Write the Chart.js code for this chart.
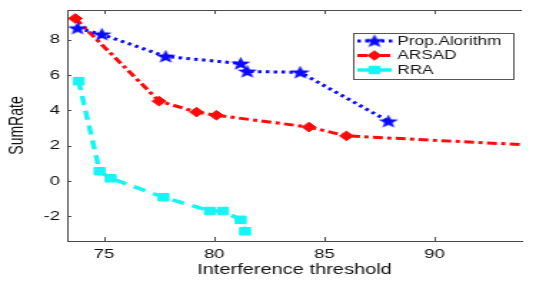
<!DOCTYPE html>
<html>
<head>
<meta charset="utf-8">
<script src="https://cdn.jsdelivr.net/npm/chart.js@4"></script>
<style>
  html, body { margin: 0; padding: 0; background: #fff; overflow: hidden; }
  /* the original figure is stretched sideways, so draw narrow and scale */
  #wrap { width: 375px; height: 281px; transform: scaleX(1.42933); transform-origin: 0 0; }
  #sumRateChart { display: block; width: 375px; height: 281px; }
</style>
</head>
<body>
<div id="wrap"><canvas id="sumRateChart" width="375" height="281"></canvas></div>
<script>
  // Prop. Alorithm
  const propThreshold = [73.8, 74.9, 77.8, 81.2, 81.5, 83.9, 87.9];
  const propSumRate = [8.65, 8.3, 7.05, 6.65, 6.2, 6.15, 3.38];

  // ARSAD
  const arsadThreshold = [73.7, 77.5, 79.2, 80.1, 84.3, 86.0, 96.0];
  const arsadSumRate = [9.2, 4.52, 3.9, 3.72, 3.05, 2.55, 1.93];

  // RRA
  const rraThreshold = [73.85, 74.8, 75.3, 77.7, 79.8, 80.4, 81.2, 81.4];
  const rraSumRate = [5.65, 0.55, 0.15, -0.92, -1.7, -1.7, -2.2, -2.85];

  const legendNames = ['Prop.Alorithm', 'ARSAD', 'RRA'];

  const axisColor = '#4a4a4a';
  const fontFamily = '"Liberation Sans", Arial, Helvetica, sans-serif';

  // filled five point star for the first series
  function makeStar(color) {
    const c = document.createElement('canvas');
    c.width = 15; c.height = 15;
    const g = c.getContext('2d');
    g.fillStyle = color;
    g.beginPath();
    for (let i = 0; i < 10; i++) {
      const r = i % 2 === 0 ? 7.2 : 3.0;
      const a = -Math.PI / 2 + i * Math.PI / 5;
      const px = 7.5 + r * Math.cos(a);
      const py = 8 + r * Math.sin(a);
      if (i === 0) g.moveTo(px, py); else g.lineTo(px, py);
    }
    g.closePath();
    g.fill();
    return c;
  }
  const star = makeStar('#0a0aff');

  function toPoints(xs, ys) {
    return xs.map((x, i) => ({ x: x, y: ys[i] }));
  }

  const data = {
    datasets: [{
      label: legendNames[0],
      data: toPoints(propThreshold, propSumRate),
      borderColor: '#0a0aff',
      backgroundColor: '#0a0aff',
      borderWidth: 3,
      borderDash: [2.5, 3],
      pointStyle: star,
      pointRadius: 7,
    }, {
      label: legendNames[1],
      data: toPoints(arsadThreshold, arsadSumRate),
      borderColor: '#ff0a0a',
      backgroundColor: '#ff0a0a',
      borderWidth: 3,
      borderDash: [7, 3, 3, 3],
      pointStyle: 'rectRot',
      pointRadius: 4.8,
      pointBorderWidth: 1,
    }, {
      label: legendNames[2],
      data: toPoints(rraThreshold, rraSumRate),
      borderColor: '#18f4f4',
      backgroundColor: '#18f4f4',
      borderWidth: 3.5,
      borderDash: [9, 6],
      pointStyle: 'rect',
      pointRadius: 5.3,
      pointBorderWidth: 1,
    }]
  };

  // top frame line and the inward tick marks
  const framePlugin = {
    id: 'frame',
    afterDraw(chart) {
      const ctx = chart.ctx;
      const a = chart.chartArea;
      const x = chart.scales.x, y = chart.scales.y;
      ctx.save();
      ctx.strokeStyle = axisColor;
      ctx.lineWidth = 1;
      ctx.beginPath();
      ctx.moveTo(a.left, a.top + 0.5);
      ctx.lineTo(a.right, a.top + 0.5);
      x.ticks.forEach(t => {
        const px = Math.round(x.getPixelForValue(t.value)) + 0.5;
        ctx.moveTo(px, a.bottom); ctx.lineTo(px, a.bottom - 4);
        ctx.moveTo(px, a.top); ctx.lineTo(px, a.top + 4);
      });
      y.ticks.forEach(t => {
        const py = Math.round(y.getPixelForValue(t.value)) + 0.5;
        ctx.moveTo(a.left, py); ctx.lineTo(a.left + 3, py);
      });
      ctx.stroke();
      ctx.restore();
    }
  };

  // boxed legend with line + marker samples
  const legendPlugin = {
    id: 'boxLegend',
    afterDraw(chart) {
      const ctx = chart.ctx;
      const bx = 247, by = 33, bw = 112, bh = 46;
      const rows = [41, 55.5, 70];
      ctx.save();
      ctx.fillStyle = '#fff';
      ctx.fillRect(bx, by, bw, bh);
      ctx.strokeStyle = '#555';
      ctx.lineWidth = 1;
      ctx.strokeRect(bx + 0.5, by + 0.5, bw, bh);
      chart.data.datasets.forEach((ds, i) => {
        const ry = rows[i];
        ctx.save();
        ctx.strokeStyle = ds.borderColor;
        ctx.lineWidth = ds.borderWidth;
        ctx.setLineDash(ds.borderDash);
        ctx.beginPath();
        ctx.moveTo(250, ry);
        ctx.lineTo(275, ry);
        ctx.stroke();
        ctx.restore();
        ctx.fillStyle = ds.backgroundColor;
        ctx.strokeStyle = ds.borderColor;
        Chart.helpers.drawPoint(ctx, {
          pointStyle: ds.pointStyle,
          radius: ds.pointRadius,
          rotation: 0,
          borderWidth: 1
        }, 262, ry);
        ctx.fillStyle = '#1a1a1a';
        ctx.font = '12px ' + fontFamily;
        ctx.textAlign = 'left';
        ctx.textBaseline = 'middle';
        ctx.fillText(ds.label, 278, ry + 0.5);
      });
      ctx.restore();
    }
  };

  function noPadding(scale) {
    scale.paddingTop = 0;
    scale.paddingBottom = 0;
    scale.paddingLeft = 0;
    scale.paddingRight = 0;
  }

  const config = {
    type: 'line',
    data,
    options: {
      responsive: false,
      animation: false,
      devicePixelRatio: 1,
      layout: { padding: { top: 7, right: 0, left: 0, bottom: 0 } },
      plugins: {
        legend: { display: false },
        tooltip: { enabled: false }
      },
      scales: {
        x: {
          type: 'linear',
          min: 73.33,
          max: 93.95,
          afterFit(scale) { scale.height = 40; noPadding(scale); },
          grid: { drawOnChartArea: false, drawTicks: false },
          border: { color: axisColor, width: 1 },
          ticks: {
            stepSize: 5,
            includeBounds: false,
            autoSkip: false,
            maxRotation: 0,
            padding: 6,
            color: '#111',
            font: { family: fontFamily, size: 13 }
          },
          title: {
            display: true,
            text: 'Interference threshold',
            color: '#111',
            padding: { top: 0, bottom: 2 },
            font: { family: fontFamily, size: 14 }
          }
        },
        y: {
          min: -3.4,
          max: 9.68,
          afterFit(scale) { scale.width = 47; noPadding(scale); },
          grid: { drawOnChartArea: false, drawTicks: false },
          border: { color: axisColor, width: 1 },
          ticks: {
            stepSize: 2,
            includeBounds: false,
            autoSkip: false,
            padding: 5,
            color: '#111',
            font: { family: fontFamily, size: 13 }
          },
          title: {
            display: true,
            text: 'SumRate',
            color: '#111',
            padding: { top: 4, bottom: 0 },
            font: { family: fontFamily, size: 14 }
          }
        }
      }
    },
    plugins: [framePlugin, legendPlugin]
  };

  var sumRateChart = new Chart(
    document.getElementById('sumRateChart'),
    config
  );
</script>
</body>
</html>
